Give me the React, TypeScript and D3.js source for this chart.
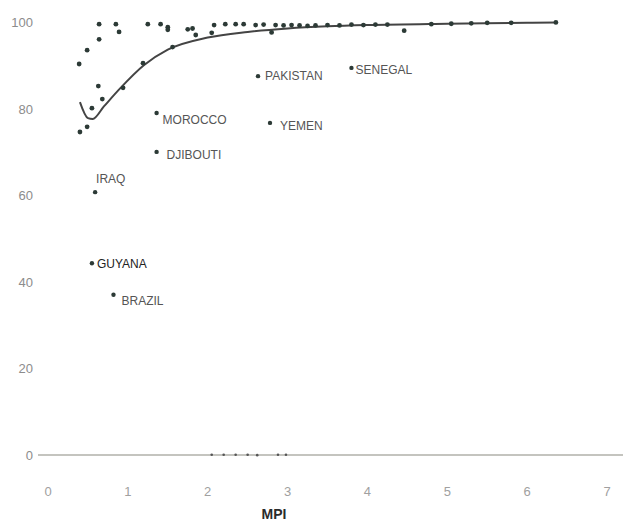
import React from "react";
import * as d3 from "d3";

// MPI vs value, unlabelled countries
const pointsMpi = [
  0.64, 0.85, 0.89, 0.64, 0.49, 0.39, 1.25, 1.41, 1.5, 1.5, 1.75, 1.81, 1.85, 2.05,
  2.08, 2.22, 2.35, 2.45, 2.6, 2.7, 2.8, 2.85, 2.95, 3.05, 3.15, 3.25, 3.35, 3.5,
  3.65, 3.8, 3.95, 4.1, 4.25, 4.46, 4.8, 5.05, 5.3, 5.5, 5.8, 6.36,
  0.63, 0.68, 0.55, 0.49, 0.4, 0.94, 1.19, 1.56,
];
const pointsVal = [
  99.5, 99.5, 97.7, 96, 93.5, 90.3, 99.5, 99.5, 98.8, 98.2, 98.3, 98.5, 97, 97.5,
  99.3, 99.5, 99.5, 99.5, 99.3, 99.4, 97.6, 99.3, 99.2, 99.3, 99.2, 99.1, 99.2, 99.3,
  99.2, 99.4, 99.3, 99.4, 99.4, 98, 99.5, 99.6, 99.7, 99.8, 99.8, 99.9,
  85.2, 82.2, 80.1, 75.8, 74.6, 84.8, 90.5, 94.2,
];

// points sitting on the zero line
const zeroMpi = [2.05, 2.2, 2.35, 2.5, 2.62, 2.88, 2.98];
const zeroVal = [0.3, 0.3, 0.3, 0.3, 0.2, 0.3, 0.3];

// labelled countries
const labelNames = ["PAKISTAN", "SENEGAL", "MOROCCO", "YEMEN", "DJIBOUTI", "IRAQ", "GUYANA", "BRAZIL"];
const labelMpi = [2.63, 3.8, 1.36, 2.78, 1.36, 0.59, 0.55, 0.82];
const labelVal = [87.5, 89.4, 79, 76.7, 70, 60.7, 44.3, 37];

// fitted curve
const curveMpi = [0.4, 0.5, 0.56, 0.7, 0.9, 1.2, 1.5, 2.0, 2.5, 3.0, 3.5, 4.0, 5.0, 6.0, 6.36];
const curveVal = [81.5, 77.8, 77.6, 80.5, 84.6, 90, 93.6, 96.4, 97.7, 98.5, 99, 99.3, 99.6, 99.8, 99.9];

const xTicks = [0, 1, 2, 3, 4, 5, 6, 7];
const yTicks = [0, 20, 40, 60, 80, 100];

const W = 623;
const H = 528;
const font = "'Liberation Sans Narrow', 'Liberation Sans', sans-serif";

export default function App() {
  const x = d3.scaleLinear().domain([0, 7]).range([48, 607]);
  const y = d3.scaleLinear().domain([0, 100]).range([455, 22]);

  const line = d3
    .line<number>()
    .x((d, i) => x(curveMpi[i]))
    .y((d) => y(d))
    .curve(d3.curveMonotoneX);

  // label offset from the dot
  const labelPos = (name: string) => {
    if (name === "IRAQ") return { dx: 1, dy: -9 };
    if (name === "SENEGAL") return { dx: 4, dy: 6 };
    if (name === "BRAZIL") return { dx: 8, dy: 10 };
    if (name === "PAKISTAN") return { dx: 7, dy: 4 };
    if (name === "DJIBOUTI") return { dx: 10, dy: 7 };
    if (name === "YEMEN") return { dx: 10, dy: 7 };
    if (name === "MOROCCO") return { dx: 6, dy: 11 };
    return { dx: 5, dy: 5 };
  };

  return (
    <div style={{ position: "absolute", left: 0, top: 0 }}>
      <svg width={W} height={H} style={{ display: "block", background: "#fff" }}>
        {/* zero line */}
        <line x1={38} x2={W} y1={y(0)} y2={y(0)} stroke="#8a8a80" strokeWidth={1.2} />

        {/* y ticks */}
        {yTicks.map((t) => (
          <text
            key={"y" + t}
            x={33}
            y={y(t) + 5}
            textAnchor="end"
            fontFamily={font}
            fontSize={13}
            fill="#8c8c8c"
          >
            {t}
          </text>
        ))}

        {/* x ticks */}
        {xTicks.map((t) => (
          <text
            key={"x" + t}
            x={x(t)}
            y={496}
            textAnchor="middle"
            fontFamily={font}
            fontSize={13}
            fill="#a0a0a0"
          >
            {t}
          </text>
        ))}

        <text
          x={274}
          y={519}
          textAnchor="middle"
          fontFamily="'Liberation Sans', sans-serif"
          fontWeight="bold"
          fontSize={14}
          fill="#2b2b2b"
        >
          MPI
        </text>

        {/* fitted curve */}
        <path d={line(curveVal) || ""} fill="none" stroke="#444" strokeWidth={2} />

        {/* points */}
        {pointsMpi.map((m, i) => (
          <circle key={"p" + i} cx={x(m)} cy={y(pointsVal[i])} r={2.4} fill="#2c3a36" />
        ))}
        {zeroMpi.map((m, i) => (
          <circle key={"z" + i} cx={x(m)} cy={y(zeroVal[i]) + 1} r={1.3} fill="#555" />
        ))}

        {/* labelled countries */}
        {labelNames.map((n, i) => {
          const p = labelPos(n);
          return (
            <g key={n}>
              <circle cx={x(labelMpi[i])} cy={y(labelVal[i])} r={2.2} fill="#2c3a36" />
              <text
                x={x(labelMpi[i]) + p.dx}
                y={y(labelVal[i]) + p.dy}
                fontFamily={font}
                fontSize={12}
                fill={n === "GUYANA" ? "#222" : "#555"}
              >
                {n}
              </text>
            </g>
          );
        })}
      </svg>
    </div>
  );
}
